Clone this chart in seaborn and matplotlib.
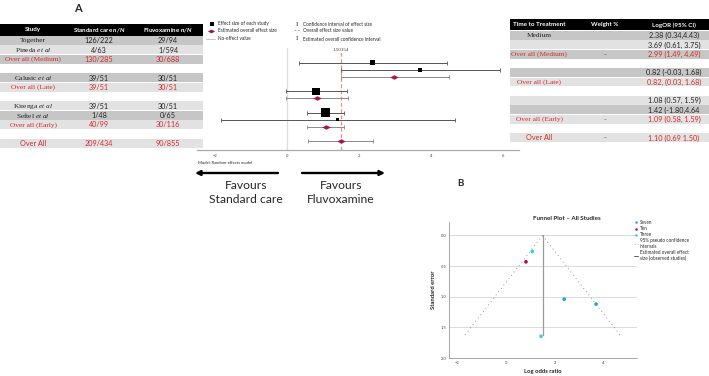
import numpy as np
import pandas as pd
import matplotlib
matplotlib.use("Agg")
import matplotlib.pyplot as plt
import seaborn as sns
from matplotlib.lines import Line2D
from matplotlib.path import Path
from matplotlib.patches import Rectangle

sns.set_theme(style="white")
plt.rcParams['font.family'] = ['Lato', 'DejaVu Sans']
plt.rcParams['mathtext.fontset'] = 'custom'
plt.rcParams['mathtext.rm'] = 'Liberation Serif'
plt.rcParams['mathtext.it'] = 'Liberation Serif:italic'
plt.rcParams['mathtext.sf'] = 'Lato:italic:bold'

# ---- data ----
# left table (A)
study_names = ["Together", r"Pineda $\mathit{et\ al}$", "Over all (Medium)",
               r"Calusic $\mathit{et\ al}$", "Over all (Late)",
               r"Kirenga $\mathit{et\ al}$", r"Seftel $\mathit{et\ al}$", "Over all (Early)",
               "Over All"]
standard_care = ["126/222", "4/63", "130/285", "39/51", "39/51", "39/51", "1/48", "40/99", "209/434"]
fluvoxamine = ["29/94", "1/594", "30/688", "30/51", "30/51", "30/51", "0/65", "30/116", "90/855"]
is_overall = [False, False, True, False, True, False, False, True, True]

# right table (A)
time_to_treatment = ["Medium", "", "Over all (Medium)", "", "Over all (Late)", "", "", "Over all (Early)", "Over All"]
weight_pct = ["", "", "-", "", "", "", "", "-", "-"]
logor_ci = ["2.38 (0.34,4.43)", "3.69 (0.61, 3.75)", "2.99 (1.49, 4.49)",
            "0.82 (-0.03, 1.68)", "0.82, (0.03, 1.68)",
            "1.08 (0.57, 1.59)", "1.42 (-1.80,4.64", "1.09 (0.58, 1.59)",
            "1.10 (0.69 1.50)"]

# forest plot values
forest_est = [2.38, 3.69, 2.97, 0.80, 0.82, 1.07, 1.41, 1.09, 1.50]
forest_lo = [0.32, 1.49, 1.49, -0.04, -0.03, 0.56, -1.82, 0.56, 0.58]
forest_hi = [4.43, 5.90, 4.49, 1.67, 1.68, 1.59, 4.66, 1.59, 2.39]
overall_effect = 1.50154

# funnel plot (B)
funnel_logor = [2.39, 3.70, 0.82, 1.08, 1.44]
funnel_se = [1.04, 1.12, 0.43, 0.26, 1.645]
funnel_group = ["Seven", "Seven", "Ten", "Three", "Three"]
funnel_pooled = 1.50
funnel_se_max = 1.645

# ---- layout / style ----
row_slot = [1, 2, 3, 5, 6, 8, 9, 10, 12]
row_dark = [True, False, True, True, False, False, True, False, False]
square_px = [4.7, 4.0, 7.3, 8.7, 3.3]   # weight of each study square
RED = "#d42a2a"
DARK = "#c6c6c6"
LIGHT = "#e2e2e2"
DIAM = "#a3174f"
SERIF = "Liberation Serif"
SERIF_SIZE = 5.3

W, H = 709, 376
fig = plt.figure(figsize=(W / 100, H / 100), dpi=100)


def px_axes(x0, y0, x1, y1):
    return fig.add_axes([x0 / W, 1 - y1 / H, (x1 - x0) / W, (y1 - y0) / H])


bg = px_axes(0, 0, W, H)
bg.set_xlim(0, W)
bg.set_ylim(H, 0)
bg.axis("off")

# ---- left table ----
RH = 9.35
bg.add_patch(Rectangle((0, 24), 203, 11.5, color="black", lw=0))
for x, t in zip([33, 99, 168], ["Study", r"Standard care $\mathsf{n/N}$", r"Fluvoxamine $\mathsf{n/N}$"]):
    bg.text(x, 29.8, t, color="white", fontsize=4.5, fontweight="bold", ha="center", va="center")
for i, slot in enumerate(row_slot):
    top = 36 + (slot - 1) * RH
    bg.add_patch(Rectangle((0, top), 203, RH - 0.4, color=DARK if row_dark[i] else LIGHT, lw=0))
    col = RED if is_overall[i] else "#222222"
    yc = top + RH / 2
    if study_names[i] == "Over All":
        bg.text(33, yc, study_names[i], color=col, fontsize=5.2, ha="center", va="center")
    else:
        bg.text(33, yc, study_names[i], color=col, fontsize=SERIF_SIZE, family=SERIF,
                ha="center", va="center")
    bg.text(99, yc, standard_care[i], color=col, fontsize=5.2, ha="center", va="center")
    bg.text(168, yc, fluvoxamine[i], color=col, fontsize=5.2, ha="center", va="center")

# ---- right table ----
RH2 = 9.3
bg.add_patch(Rectangle((510, 19), 199, 11.2, color="black", lw=0))
for x, t in zip([539, 605, 674], ["Time to Treatment", "Weight %", "LogOR (95% CI)"]):
    bg.text(x, 24.8, t, color="white", fontsize=4.5, fontweight="bold", ha="center", va="center")
for i, slot in enumerate(row_slot):
    top = 31 + (slot - 1) * RH2
    bg.add_patch(Rectangle((510, top), 199, RH2 - 0.4, color=DARK if row_dark[i] else LIGHT, lw=0))
    col = RED if is_overall[i] else "#222222"
    yc = top + RH2 / 2
    if time_to_treatment[i] == "Over All":
        bg.text(539, yc, time_to_treatment[i], color=col, fontsize=5.2, ha="center", va="center")
    else:
        bg.text(539, yc, time_to_treatment[i], color=col, fontsize=SERIF_SIZE, family=SERIF,
                ha="center", va="center")
    bg.text(605, yc, weight_pct[i], color=col, fontsize=5.2, ha="center", va="center")
    bg.text(674, yc, logor_ci[i], color=col, fontsize=5.2, ha="center", va="center")

# ---- forest plot ----
fa = px_axes(197, 48, 519, 150)
fa.set_facecolor("none")
fslot = [s - 1 for s in row_slot]
est = np.array(forest_est)
lo = np.array(forest_lo)
hi = np.array(forest_hi)
study_idx = [i for i in range(9) if not is_overall[i]]
over_idx = [i for i in range(9) if is_overall[i]]

fa.axvline(0, color="#dddddd", lw=0.9, zorder=0)
fa.axvline(overall_effect, ymin=0, ymax=0.96, color="#f08a8a", lw=0.9, ls=(0, (3, 2)), zorder=0)
fa.text(overall_effect, -1.75, f"{overall_effect:.5f}", fontsize=3.6, family=SERIF,
        ha="center", va="center", color="#333333")

for idx, ec in [(study_idx, "#555555"), (over_idx, "#8a8a8a")]:
    fa.errorbar(est[idx], np.array(fslot)[idx], xerr=[est[idx] - lo[idx], hi[idx] - est[idx]],
                fmt="none", ecolor=ec, elinewidth=0.7, capsize=1.3, capthick=0.6, zorder=2)

df_st = pd.DataFrame({"est": est[study_idx], "row": np.array(fslot)[study_idx]})
sns.scatterplot(data=df_st, x="est", y="row", marker="s", color="black", linewidth=0,
                s=[(p * 0.72) ** 2 for p in square_px], ax=fa, zorder=3)
diamond = Path([(-1, 0), (0, 0.55), (1, 0), (0, -0.55), (-1, 0)])
df_ov = pd.DataFrame({"est": est[over_idx], "row": np.array(fslot)[over_idx]})
sns.scatterplot(data=df_ov, x="est", y="row", marker=diamond, color=DIAM, linewidth=0,
                s=36, ax=fa, zorder=3)

fa.set_xlim(-2.5, 6.44)
fa.set_ylim(12.26, -2.06)
fa.set_xticks([-2, 0, 2, 4, 6])
fa.set_yticks([])
fa.set_xlabel("")
fa.set_ylabel("")
fa.tick_params(axis="x", labelsize=3, colors="#444444", length=1.2, width=0.4, pad=1.5)
for s in ["top", "right", "left"]:
    fa.spines[s].set_visible(False)
fa.spines["bottom"].set_color("#aaaaaa")
fa.spines["bottom"].set_linewidth(0.9)

# forest legend
bg.scatter([212], [24], marker="s", s=6, color="black", lw=0)
bg.scatter([211], [31], marker=diamond, s=26, color=DIAM, lw=0)
bg.plot([206, 215], [39, 39], color="#bbbbbb", lw=0.6)
bg.text(218, 24, "Effect size of each study", fontsize=3.4, va="center")
bg.text(218, 31, "Estimated overall effect size", fontsize=3.4, va="center")
bg.text(218, 39, "No-effect value", fontsize=3.4, va="center")
bg.text(297, 24, "I", fontsize=4.5, family="DejaVu Serif", ha="center", va="center", color="#333333")
bg.plot([294, 300], [30, 30], color="#f08a8a", lw=0.7, ls=(0, (2, 1.5)))
bg.text(297, 39, "I", fontsize=4.5, family="DejaVu Serif", ha="center", va="center", color="#333333")
bg.text(303, 24, "Confidence interval of effect size", fontsize=3.4, va="center")
bg.text(303, 30, "Overall effect size value", fontsize=3.4, va="center")
bg.text(303, 39.5, "Estimated overall confidence interval", fontsize=3.4, va="center")
bg.text(198, 163, "Model: Random-effects model", fontsize=3.0, va="center")

# favours arrows
bg.annotate("", xy=(195, 173), xytext=(278, 173),
            arrowprops=dict(arrowstyle="-|>", lw=1.7, color="black", mutation_scale=7, shrinkA=0, shrinkB=0))
bg.annotate("", xy=(385, 173), xytext=(302, 173),
            arrowprops=dict(arrowstyle="-|>", lw=1.7, color="black", mutation_scale=7, shrinkA=0, shrinkB=0))
bg.text(246, 192.5, "Favours\nStandard care", fontsize=8.7, ha="center", va="center", linespacing=1.35)
bg.text(341, 192.5, "Favours\nFluvoxamine", fontsize=8.7, ha="center", va="center", linespacing=1.35)

bg.text(78, 8, "A", fontsize=8, fontweight="bold", ha="center", va="center")
bg.text(460, 183, "B", fontsize=7, fontweight="bold", ha="center", va="center")

# ---- funnel plot ----
fu = px_axes(449, 222, 637, 358)
fu.set_facecolor("none")
for g in [0, 0.5, 1.0, 1.5]:
    fu.axhline(g, color="#d4d4d4", lw=0.6, zorder=0)
se_line = np.array([0, funnel_se_max])
fu.plot(funnel_pooled - 1.96 * se_line, se_line, color="#777777", lw=0.6, ls=(0, (1, 4)))
fu.plot(funnel_pooled + 1.96 * se_line, se_line, color="#777777", lw=0.6, ls=(0, (1, 4)))
fu.plot([funnel_pooled, funnel_pooled], [0, 1.62], color="#9a9a9a", lw=0.9)

pal = {"Seven": "#1fa2e6", "Ten": "#b0103c", "Three": "#2dd3e0"}
df_fu = pd.DataFrame({"logor": funnel_logor, "se": funnel_se, "group": funnel_group})
sns.scatterplot(data=df_fu, x="logor", y="se", hue="group", palette=pal, s=7, linewidth=0,
                legend=False, ax=fu, zorder=3)
fu.set_xlim(-2.34, 5.38)
fu.set_ylim(2.0, -0.22)
fu.set_xticks([-2, 0, 2, 4])
fu.set_yticks([0, 0.5, 1.0, 1.5, 2.0])
fu.set_yticklabels(["0.0", "0.5", "1.0", "1.5", "2.0"])
fu.tick_params(labelsize=3, colors="#444444", length=0, pad=2)
fu.set_xlabel("Log odds ratio", fontsize=4.2, fontweight="bold", labelpad=3, color="#222222")
fu.set_ylabel("Standard error", fontsize=4.2, fontweight="bold", labelpad=3, color="#222222")
for s in ["top", "right"]:
    fu.spines[s].set_visible(False)
for s in ["left", "bottom"]:
    fu.spines[s].set_color("#999999")
    fu.spines[s].set_linewidth(0.6)
bg.text(567, 218, "Funnel Plot – All Studies", fontsize=4.5, fontweight="bold", ha="center", va="center")

handles = [Line2D([], [], marker="o", ls="", color=pal[k], markersize=1.8, markeredgewidth=0) for k in ["Seven", "Ten", "Three"]]
handles += [Line2D([], [], color="#777777", lw=0.6, ls=(0, (1, 3))),
            Line2D([], [], color="#444444", lw=0.6)]
fig.legend(handles, ["Seven", "Ten", "Three", "95% pseudo confidence\nintervals",
                     "Estimated overall effect\nsize (observed studies)"],
           loc="upper left", bbox_to_anchor=(634 / W, 1 - 220 / H), fontsize=3.3, frameon=False,
           handlelength=0.8, handletextpad=0.5, labelspacing=0.25, borderaxespad=0, borderpad=0)

fig.savefig("out.png", dpi=100)
